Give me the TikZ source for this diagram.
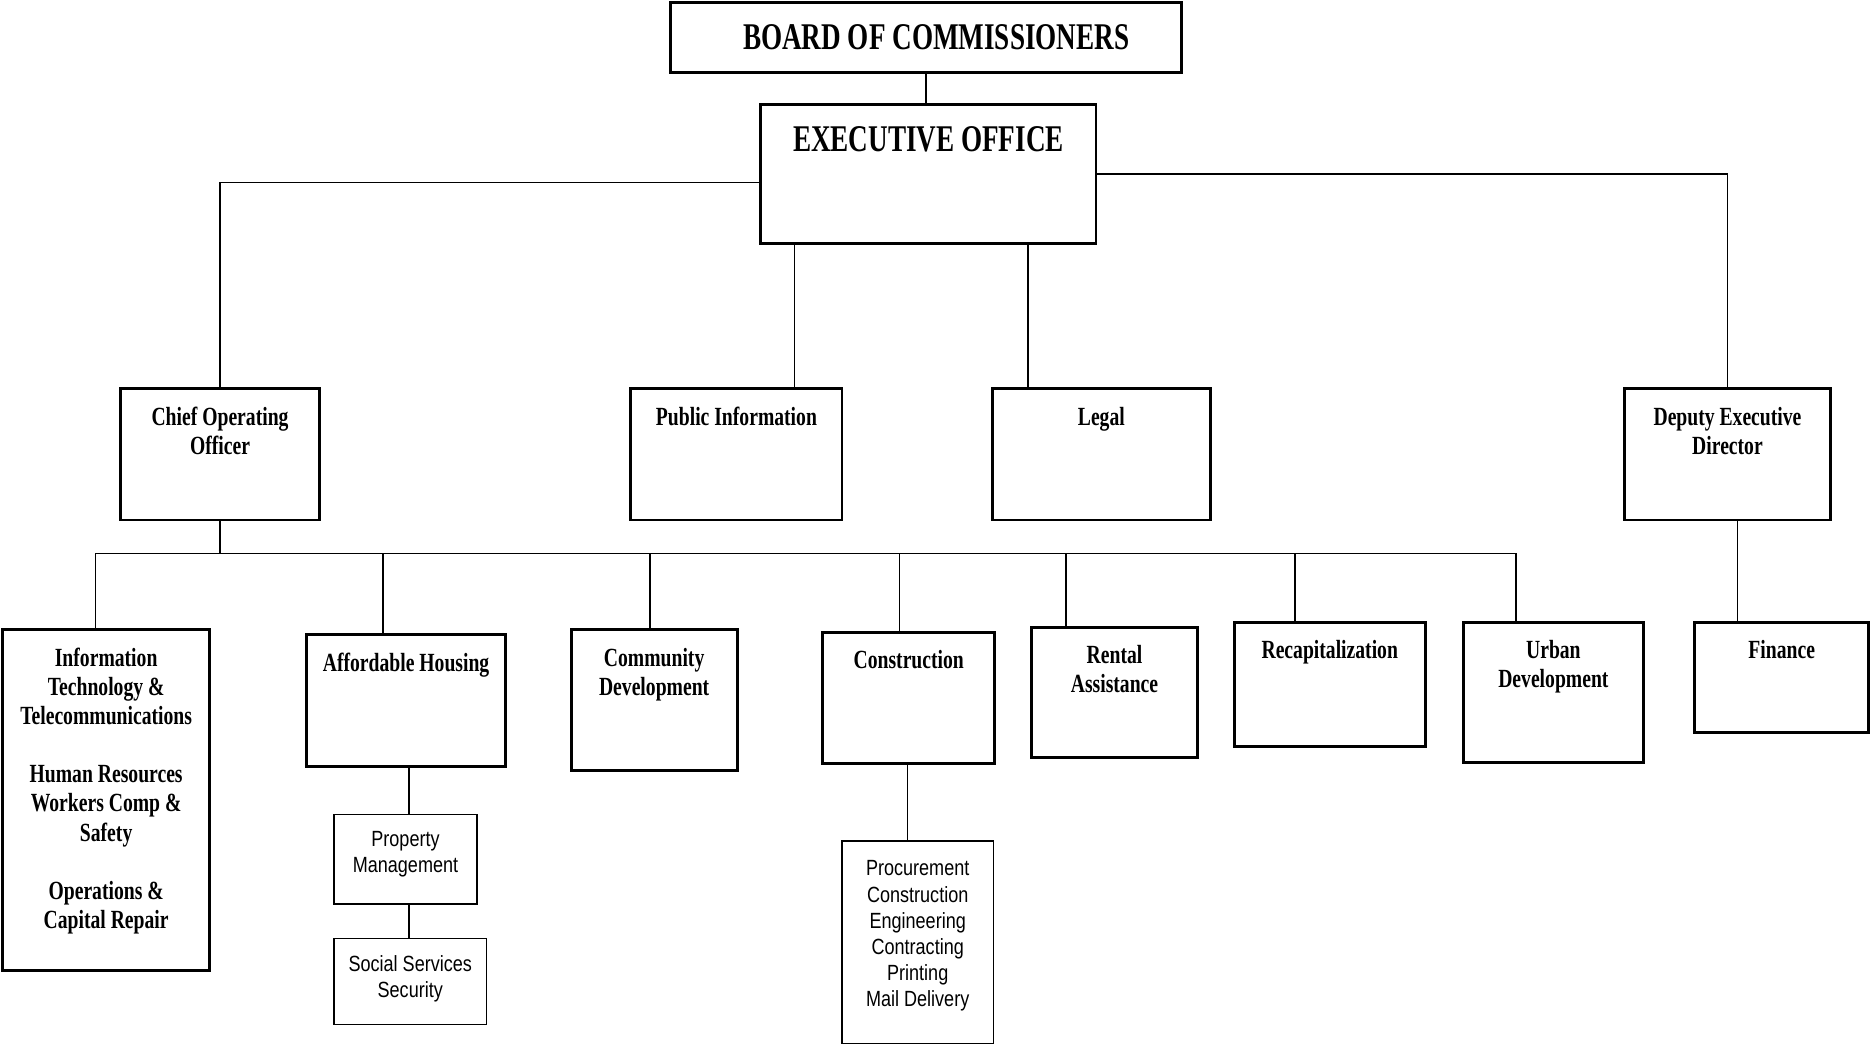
\documentclass[tikz,border=0pt]{standalone}
\usepackage{fontspec}
\setmainfont[FakeStretch=0.72]{Liberation Serif}
\newfontfamily\boxfont[FakeStretch=0.75]{Liberation Serif}
\newfontfamily\subfont[FakeStretch=0.82]{Liberation Sans}
\usetikzlibrary{positioning,fit}

\begin{document}
\begin{tikzpicture}[
        x=0.02cm, y=-0.02cm,
        line width=0.7pt,
        unit/.style={draw, line width=1.4pt, inner sep=0pt},
        subunit/.style={draw, line width=0.7pt, inner sep=0pt},
        title/.style={font=\fontsize{18}{20}\selectfont\bfseries, inner sep=0pt},
        caption/.style={font=\boxfont\fontsize{12.5}{13.9}\selectfont\bfseries, align=center, inner sep=0pt},
        subcaption/.style={font=\subfont\fontsize{10.5}{12.5}\selectfont, align=center, inner sep=0pt}
    ]
        \useasboundingbox (0,0) rectangle (1568,876);

        % board and executive office
        \node[unit, fit={(562,2) (991,61)}] (board) {};
        \node[title] (board-t) at ([xshift=1.7mm]board.center) {BOARD OF COMMISSIONERS};
        \node[unit, fit={(638,88) (919,204)}] (exec) {};
        \node[title, below=10.5pt of exec.north] (exec-t) {EXECUTIVE OFFICE};

        % second row
        \node[unit, fit={(101,326) (268,436)}] (coo) {};
        \node[caption, below=9pt of coo.north] (coo-t) {Chief Operating\\Officer};
        \node[unit, fit={(529,326) (706,436)}] (pubinfo) {};
        \node[caption, below=9pt of pubinfo.north] (pubinfo-t) {Public Information};
        \node[unit, fit={(832,326) (1015,436)}] (legal) {};
        \node[caption, below=9pt of legal.north] (legal-t) {Legal};
        \node[unit, fit={(1362,326) (1535,436)}] (ded) {};
        \node[caption, below=9pt of ded.north] (ded-t) {Deputy Executive\\Director};

        % departments
        \node[unit, fit={(2,528) (176,814)}] (it) {};
        \node[caption, below=9pt of it.north] (it-t) {Information\\Technology \&\\Telecommunications\\[13.9pt]Human Resources\\Workers Comp \&\\Safety\\[13.9pt]Operations \&\\Capital Repair};
        \node[unit, fit={(257,532) (424,643)}] (afford) {};
        \node[caption, below=9pt of afford.north] (afford-t) {Affordable Housing};
        \node[unit, fit={(479,528) (618,646)}] (commdev) {};
        \node[caption, below=9pt of commdev.north] (commdev-t) {Community\\Development};
        \node[unit, fit={(690,530) (834,640)}] (constr) {};
        \node[caption, below=9pt of constr.north] (constr-t) {Construction};
        \node[unit, fit={(865,526) (1004,635)}] (rental) {};
        \node[caption, below=9pt of rental.north] (rental-t) {Rental\\Assistance};
        \node[unit, fit={(1035,522) (1195,626)}] (recap) {};
        \node[caption, below=9pt of recap.north] (recap-t) {Recapitalization};
        \node[unit, fit={(1227,522) (1378,639)}] (urban) {};
        \node[caption, below=9pt of urban.north] (urban-t) {Urban\\Development};
        \node[unit, fit={(1421,522) (1567,614)}] (finance) {};
        \node[caption, below=9pt of finance.north] (finance-t) {Finance};

        % sections
        \node[subunit, fit={(280,683) (400,758)}] (propmgmt) {};
        \node[subcaption, below=8pt of propmgmt.north] (propmgmt-t) {Property\\Management};
        \node[subunit, fit={(280,787) (408,859)}] (social) {};
        \node[subcaption, below=8pt of social.north] (social-t) {Social Services\\Security};
        \node[subunit, fit={(706,705) (833,875)}] (procure) {};
        \node[subcaption, below=9.5pt of procure.north] (procure-t) {Procurement\\Construction\\Engineering\\Contracting\\Printing\\Mail Delivery};

        % reporting lines
        \draw (board.south) -- (board.south |- exec.north);
        \draw ([yshift=-1.4mm]exec.west) -| (coo.north);
        \draw (exec.east) -| (ded.north);
        \draw (exec.south -| 666,0) -- (pubinfo.north -| 666,0);
        \draw (exec.south -| 862,0) -- (legal.north -| 862,0);

        \coordinate (bus-w) at (80,464);
        \coordinate (bus-e) at (1271,464);
        \draw (coo.south) -- (coo.south |- bus-w);
        \draw (bus-w) -- (bus-e);
        \foreach \tap/\dept in {80/it, 321/afford, 545/commdev, 754/constr, 894/rental, 1086/recap, 1271/urban}
            \draw (\tap,464) -- (\dept.north -| \tap,0);

        \draw (afford.south -| 343,0) -- (propmgmt.north -| 343,0);
        \draw (propmgmt.south -| 343,0) -- (social.north -| 343,0);
        \draw (constr.south -| 761,0) -- (procure.north -| 761,0);
        \draw (ded.south -| 1457,0) -- (finance.north -| 1457,0);
    \end{tikzpicture}
\end{document}
